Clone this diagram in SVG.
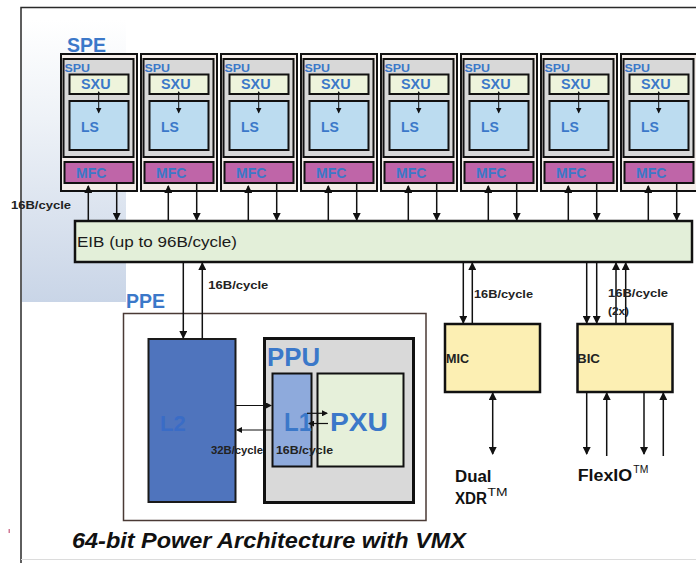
<svg xmlns="http://www.w3.org/2000/svg" width="696" height="563" viewBox="0 0 696 563">
<defs>
<linearGradient id="bg" x1="0" y1="0" x2="0" y2="1">
<stop offset="0" stop-color="#ffffff"/>
<stop offset="0.35" stop-color="#eef2f7"/>
<stop offset="1" stop-color="#c9d5e7"/>
</linearGradient>
<marker id="ah" viewBox="0 0 8 8" refX="7" refY="4" markerWidth="8" markerHeight="8" markerUnits="userSpaceOnUse" orient="auto-start-reverse">
<path d="M0,0 L8,4 L0,8 z" fill="#111"/>
</marker>
<marker id="as" viewBox="0 0 6 6" refX="5" refY="3" markerWidth="6" markerHeight="6" markerUnits="userSpaceOnUse" orient="auto-start-reverse">
<path d="M0,0 L6,3 L0,6 z" fill="#111"/>
</marker>
<marker id="at" viewBox="0 0 4 4" refX="3" refY="2" markerWidth="4" markerHeight="4" markerUnits="userSpaceOnUse" orient="auto-start-reverse">
<path d="M0,0 L4,2 L0,4 z" fill="#111"/>
</marker>
</defs>
<style>
text{font-family:"Liberation Sans",Arial,sans-serif;font-weight:bold}
.blue{fill:#3b78c9}
.lab{font-size:11px;fill:#222}
.spe-o{fill:#f4ede9;stroke:#111;stroke-width:2}
.spu{fill:#d8d8d8;stroke:#111;stroke-width:2}
.sxu{fill:#eef4dc;stroke:#111;stroke-width:2}
.ls{fill:#bcdcf0;stroke:#111;stroke-width:2}
.mfc{fill:#bf65a8;stroke:#111;stroke-width:2}
.ce{stroke:#111;stroke-width:1.5;fill:none;marker-end:url(#ah)}
.cs{stroke:#111;stroke-width:1.2;fill:none;marker-end:url(#as)}
.ci{stroke:#111;stroke-width:1;fill:none;marker-start:url(#at);marker-end:url(#as)}
.tm{font-weight:normal;font-size:10px;fill:#111}
</style>
<rect width="696" height="563" fill="#ffffff"/>
<rect x="22" y="20" width="104" height="282" fill="url(#bg)"/>
<path d="M21,563 L21,7.5 L696,7.5" fill="none" stroke="#2a2a2a" stroke-width="1.5"/>
<line x1="21" y1="559.5" x2="696" y2="559.5" stroke="#dcdcdc" stroke-width="1"/>
<rect x="8.5" y="529" width="1.5" height="4" fill="#d27a95"/>

<text x="67" y="51.7" class="blue" font-size="19.5">SPE</text>
<text x="126" y="308" class="blue" font-size="19.5">PPE</text>

<g id="spe0" transform="translate(61,0)">
<rect class="spe-o" x="0" y="54" width="76" height="137"/>
<rect class="spu" x="2.5" y="59" width="70" height="98"/>
<rect class="sxu" x="8.5" y="74.5" width="59" height="19.5"/>
<rect class="ls" x="8.5" y="101" width="59" height="49"/>
<rect class="mfc" x="3.5" y="162" width="69" height="21"/>
<text x="3.5" y="72" class="blue" font-size="11.5" textLength="25.5" lengthAdjust="spacingAndGlyphs">SPU</text>
<text x="20" y="89" class="blue" font-size="14" textLength="29.5" lengthAdjust="spacingAndGlyphs">SXU</text>
<text x="20" y="131.5" class="blue" font-size="14">LS</text>
<text x="15" y="178.3" class="blue" font-size="14">MFC</text>
<line class="ci" x1="37.7" y1="92" x2="37.7" y2="112.5"/>
</g>
<g id="spe1" transform="translate(141,0)">
<rect class="spe-o" x="0" y="54" width="76" height="137"/>
<rect class="spu" x="2.5" y="59" width="70" height="98"/>
<rect class="sxu" x="8.5" y="74.5" width="59" height="19.5"/>
<rect class="ls" x="8.5" y="101" width="59" height="49"/>
<rect class="mfc" x="3.5" y="162" width="69" height="21"/>
<text x="3.5" y="72" class="blue" font-size="11.5" textLength="25.5" lengthAdjust="spacingAndGlyphs">SPU</text>
<text x="20" y="89" class="blue" font-size="14" textLength="29.5" lengthAdjust="spacingAndGlyphs">SXU</text>
<text x="20" y="131.5" class="blue" font-size="14">LS</text>
<text x="15" y="178.3" class="blue" font-size="14">MFC</text>
<line class="ci" x1="37.7" y1="92" x2="37.7" y2="112.5"/>
</g>
<g id="spe2" transform="translate(221,0)">
<rect class="spe-o" x="0" y="54" width="76" height="137"/>
<rect class="spu" x="2.5" y="59" width="70" height="98"/>
<rect class="sxu" x="8.5" y="74.5" width="59" height="19.5"/>
<rect class="ls" x="8.5" y="101" width="59" height="49"/>
<rect class="mfc" x="3.5" y="162" width="69" height="21"/>
<text x="3.5" y="72" class="blue" font-size="11.5" textLength="25.5" lengthAdjust="spacingAndGlyphs">SPU</text>
<text x="20" y="89" class="blue" font-size="14" textLength="29.5" lengthAdjust="spacingAndGlyphs">SXU</text>
<text x="20" y="131.5" class="blue" font-size="14">LS</text>
<text x="15" y="178.3" class="blue" font-size="14">MFC</text>
<line class="ci" x1="37.7" y1="92" x2="37.7" y2="112.5"/>
</g>
<g id="spe3" transform="translate(301,0)">
<rect class="spe-o" x="0" y="54" width="76" height="137"/>
<rect class="spu" x="2.5" y="59" width="70" height="98"/>
<rect class="sxu" x="8.5" y="74.5" width="59" height="19.5"/>
<rect class="ls" x="8.5" y="101" width="59" height="49"/>
<rect class="mfc" x="3.5" y="162" width="69" height="21"/>
<text x="3.5" y="72" class="blue" font-size="11.5" textLength="25.5" lengthAdjust="spacingAndGlyphs">SPU</text>
<text x="20" y="89" class="blue" font-size="14" textLength="29.5" lengthAdjust="spacingAndGlyphs">SXU</text>
<text x="20" y="131.5" class="blue" font-size="14">LS</text>
<text x="15" y="178.3" class="blue" font-size="14">MFC</text>
<line class="ci" x1="37.7" y1="92" x2="37.7" y2="112.5"/>
</g>
<g id="spe4" transform="translate(381,0)">
<rect class="spe-o" x="0" y="54" width="76" height="137"/>
<rect class="spu" x="2.5" y="59" width="70" height="98"/>
<rect class="sxu" x="8.5" y="74.5" width="59" height="19.5"/>
<rect class="ls" x="8.5" y="101" width="59" height="49"/>
<rect class="mfc" x="3.5" y="162" width="69" height="21"/>
<text x="3.5" y="72" class="blue" font-size="11.5" textLength="25.5" lengthAdjust="spacingAndGlyphs">SPU</text>
<text x="20" y="89" class="blue" font-size="14" textLength="29.5" lengthAdjust="spacingAndGlyphs">SXU</text>
<text x="20" y="131.5" class="blue" font-size="14">LS</text>
<text x="15" y="178.3" class="blue" font-size="14">MFC</text>
<line class="ci" x1="37.7" y1="92" x2="37.7" y2="112.5"/>
</g>
<g id="spe5" transform="translate(461,0)">
<rect class="spe-o" x="0" y="54" width="76" height="137"/>
<rect class="spu" x="2.5" y="59" width="70" height="98"/>
<rect class="sxu" x="8.5" y="74.5" width="59" height="19.5"/>
<rect class="ls" x="8.5" y="101" width="59" height="49"/>
<rect class="mfc" x="3.5" y="162" width="69" height="21"/>
<text x="3.5" y="72" class="blue" font-size="11.5" textLength="25.5" lengthAdjust="spacingAndGlyphs">SPU</text>
<text x="20" y="89" class="blue" font-size="14" textLength="29.5" lengthAdjust="spacingAndGlyphs">SXU</text>
<text x="20" y="131.5" class="blue" font-size="14">LS</text>
<text x="15" y="178.3" class="blue" font-size="14">MFC</text>
<line class="ci" x1="37.7" y1="92" x2="37.7" y2="112.5"/>
</g>
<g id="spe6" transform="translate(541,0)">
<rect class="spe-o" x="0" y="54" width="76" height="137"/>
<rect class="spu" x="2.5" y="59" width="70" height="98"/>
<rect class="sxu" x="8.5" y="74.5" width="59" height="19.5"/>
<rect class="ls" x="8.5" y="101" width="59" height="49"/>
<rect class="mfc" x="3.5" y="162" width="69" height="21"/>
<text x="3.5" y="72" class="blue" font-size="11.5" textLength="25.5" lengthAdjust="spacingAndGlyphs">SPU</text>
<text x="20" y="89" class="blue" font-size="14" textLength="29.5" lengthAdjust="spacingAndGlyphs">SXU</text>
<text x="20" y="131.5" class="blue" font-size="14">LS</text>
<text x="15" y="178.3" class="blue" font-size="14">MFC</text>
<line class="ci" x1="37.7" y1="92" x2="37.7" y2="112.5"/>
</g>
<g id="spe7" transform="translate(621,0)">
<rect class="spe-o" x="0" y="54" width="76" height="137"/>
<rect class="spu" x="2.5" y="59" width="70" height="98"/>
<rect class="sxu" x="8.5" y="74.5" width="59" height="19.5"/>
<rect class="ls" x="8.5" y="101" width="59" height="49"/>
<rect class="mfc" x="3.5" y="162" width="69" height="21"/>
<text x="3.5" y="72" class="blue" font-size="11.5" textLength="25.5" lengthAdjust="spacingAndGlyphs">SPU</text>
<text x="20" y="89" class="blue" font-size="14" textLength="29.5" lengthAdjust="spacingAndGlyphs">SXU</text>
<text x="20" y="131.5" class="blue" font-size="14">LS</text>
<text x="15" y="178.3" class="blue" font-size="14">MFC</text>
<line class="ci" x1="37.7" y1="92" x2="37.7" y2="112.5"/>
</g>

<g id="eib">
<rect x="75" y="221" width="617" height="41" fill="#e3efd9" stroke="#111" stroke-width="2.5"/>
<text x="77" y="246.7" font-size="14.5" fill="#1a1a1a" style="font-weight:normal" textLength="160" lengthAdjust="spacingAndGlyphs">EIB (up to 96B/cycle)</text>
</g>

<g id="ppe">
<rect x="123.5" y="313.5" width="302.5" height="207" fill="#ffffff" stroke="#4a3a35" stroke-width="1.5"/>
</g>
<g id="l2">
<rect x="148.5" y="339" width="87" height="163" fill="#4f74bd" stroke="#1a1a1a" stroke-width="2"/>
<text x="160" y="430.7" font-size="22" fill="#3a6cc6">L2</text>
</g>
<g id="ppu">
<rect x="264.5" y="338.5" width="149" height="164" fill="#d9d9d9" stroke="#111" stroke-width="3"/>
<text x="267" y="366" class="blue" font-size="25" textLength="53" lengthAdjust="spacingAndGlyphs">PPU</text>
</g>
<g id="l1">
<rect x="272.5" y="373.5" width="39" height="93" fill="#8eaadc" stroke="#111" stroke-width="2"/>
<text x="284" y="431" class="blue" font-size="26" textLength="28" lengthAdjust="spacingAndGlyphs">L1</text>
</g>
<g id="pxu">
<rect x="317.5" y="373.5" width="86" height="93" fill="#e6f0da" stroke="#111" stroke-width="2"/>
<text x="330" y="431" class="blue" font-size="26" textLength="58" lengthAdjust="spacingAndGlyphs">PXU</text>
</g>

<g id="mic">
<rect x="445" y="324" width="95" height="68" fill="#fcefb3" stroke="#111" stroke-width="2.5"/>
<text x="446" y="363" font-size="12" fill="#222" textLength="23" lengthAdjust="spacingAndGlyphs">MIC</text>
</g>
<g id="bic">
<rect x="577.5" y="324" width="95" height="68" fill="#fcefb3" stroke="#111" stroke-width="2.5"/>
<text x="577" y="363" font-size="12" fill="#222" textLength="23" lengthAdjust="spacingAndGlyphs">BIC</text>
</g>

<g id="connectors">
<line class="ce" x1="88.3" y1="221" x2="88.3" y2="186"/>
<line class="ce" x1="116.7" y1="183" x2="116.7" y2="220"/>
<line class="ce" x1="168.3" y1="221" x2="168.3" y2="186"/>
<line class="ce" x1="196.7" y1="183" x2="196.7" y2="220"/>
<line class="ce" x1="248.3" y1="221" x2="248.3" y2="186"/>
<line class="ce" x1="276.7" y1="183" x2="276.7" y2="220"/>
<line class="ce" x1="328.3" y1="221" x2="328.3" y2="186"/>
<line class="ce" x1="356.7" y1="183" x2="356.7" y2="220"/>
<line class="ce" x1="408.3" y1="221" x2="408.3" y2="186"/>
<line class="ce" x1="436.7" y1="183" x2="436.7" y2="220"/>
<line class="ce" x1="488.3" y1="221" x2="488.3" y2="186"/>
<line class="ce" x1="516.7" y1="183" x2="516.7" y2="220"/>
<line class="ce" x1="568.3" y1="221" x2="568.3" y2="186"/>
<line class="ce" x1="596.7" y1="183" x2="596.7" y2="220"/>
<line class="ce" x1="648.3" y1="221" x2="648.3" y2="186"/>
<line class="ce" x1="676.7" y1="183" x2="676.7" y2="220"/>

<line class="ce" x1="183.3" y1="262" x2="183.3" y2="338"/>
<line class="ce" x1="202.3" y1="339" x2="202.3" y2="263"/>

<line class="cs" x1="236" y1="405.5" x2="271" y2="405.5"/>
<line class="cs" x1="272" y1="430" x2="237" y2="430"/>
<line class="cs" x1="307" y1="413.3" x2="327" y2="413.3"/>
<line class="cs" x1="328" y1="423.5" x2="309" y2="423.5"/>

<line class="ce" x1="463.3" y1="262" x2="463.3" y2="323"/>
<line class="ce" x1="472.3" y1="324" x2="472.3" y2="263"/>
<line class="ce" x1="492.7" y1="393" x2="492.7" y2="454" style="marker-start:url(#ah)"/>

<line class="ce" x1="586.7" y1="262" x2="586.7" y2="323"/>
<line class="ce" x1="596.7" y1="262" x2="596.7" y2="323"/>
<line class="ce" x1="616" y1="324" x2="616" y2="263"/>
<line class="ce" x1="625.7" y1="324" x2="625.7" y2="263"/>

<line class="ce" x1="586.7" y1="392" x2="586.7" y2="454"/>
<line class="ce" x1="606.7" y1="456" x2="606.7" y2="393"/>
<line class="ce" x1="644" y1="392" x2="644" y2="454"/>
<line class="ce" x1="663.3" y1="456" x2="663.3" y2="393"/>
</g>

<g id="labels">
<text x="11" y="209.3" class="lab" textLength="60" lengthAdjust="spacingAndGlyphs">16B/cycle</text>
<text x="208.3" y="289.3" class="lab" textLength="60" lengthAdjust="spacingAndGlyphs">16B/cycle</text>
<text x="211" y="454" class="lab" textLength="52" lengthAdjust="spacingAndGlyphs">32B/cycle</text>
<text x="276" y="454" class="lab" textLength="57" lengthAdjust="spacingAndGlyphs">16B/cycle</text>
<text x="474" y="298" class="lab" textLength="59" lengthAdjust="spacingAndGlyphs">16B/cycle</text>
<text x="608" y="297" class="lab" textLength="60" lengthAdjust="spacingAndGlyphs">16B/cycle</text>
<text x="608" y="315" class="lab" textLength="21" lengthAdjust="spacingAndGlyphs">(2x)</text>
<text x="455" y="482" font-size="16" fill="#111" textLength="36.5" lengthAdjust="spacingAndGlyphs">Dual</text>
<text x="455" y="503.5" font-size="16" fill="#111" textLength="32" lengthAdjust="spacingAndGlyphs">XDR</text>
<text x="487.5" y="496" class="tm" textLength="20" lengthAdjust="spacingAndGlyphs">TM</text>
<text x="577.7" y="481" font-size="16" fill="#111" textLength="54.5" lengthAdjust="spacingAndGlyphs">FlexIO</text>
<text x="633.3" y="473" class="tm" textLength="15" lengthAdjust="spacingAndGlyphs">TM</text>
<text x="72" y="547.5" font-size="21.5" font-style="italic" fill="#111" textLength="394" lengthAdjust="spacingAndGlyphs">64-bit Power Architecture with VMX</text>
</g>
</svg>
